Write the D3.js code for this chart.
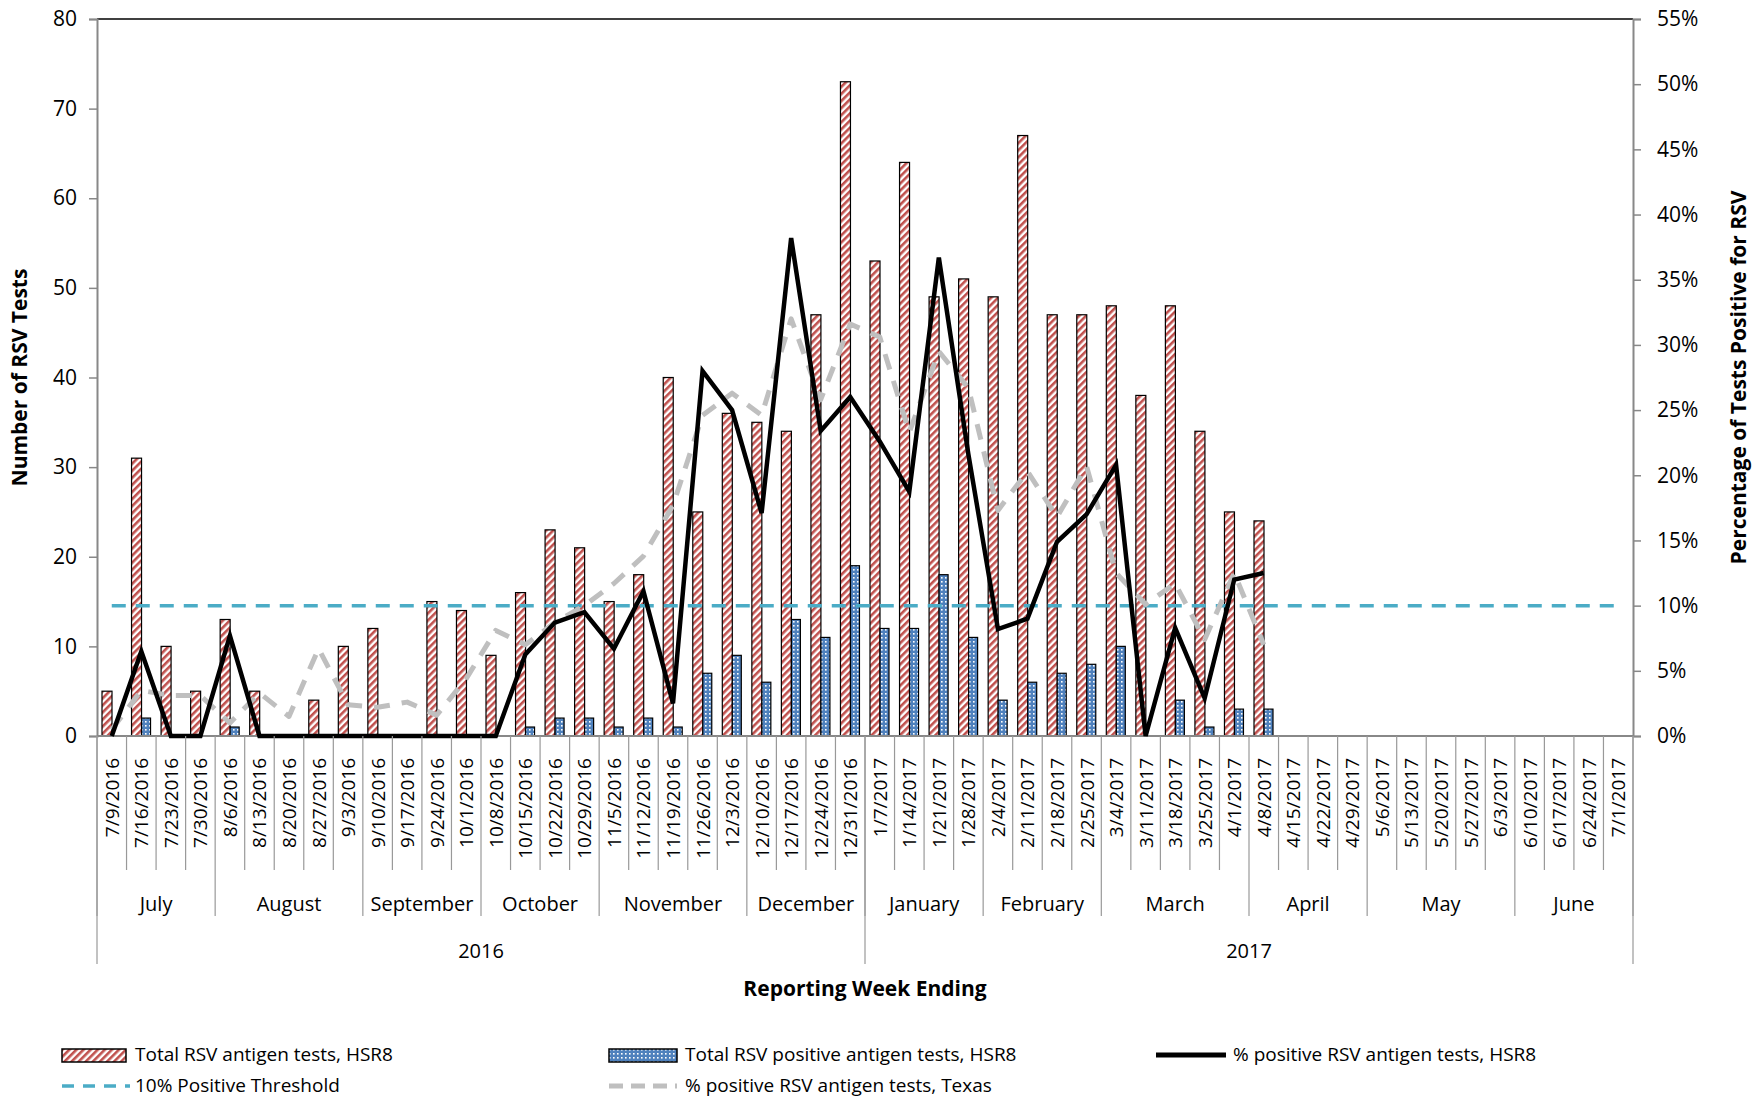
<!DOCTYPE html>
<html><head><meta charset="utf-8">
<script src="https://cdn.jsdelivr.net/npm/d3@7"></script>
<style>
body{margin:0;background:#fff;}
text{font-family:"Liberation Sans Narrow","Open Sans",sans-serif;fill:#000;}
.tick text{font-family:"Open Sans",sans-serif;}
</style></head><body>
<div id="chart"></div>
<script>
var weeks = ["7/9/2016","7/16/2016","7/23/2016","7/30/2016","8/6/2016","8/13/2016","8/20/2016","8/27/2016","9/3/2016","9/10/2016","9/17/2016","9/24/2016","10/1/2016","10/8/2016","10/15/2016","10/22/2016","10/29/2016","11/5/2016","11/12/2016","11/19/2016","11/26/2016","12/3/2016","12/10/2016","12/17/2016","12/24/2016","12/31/2016","1/7/2017","1/14/2017","1/21/2017","1/28/2017","2/4/2017","2/11/2017","2/18/2017","2/25/2017","3/4/2017","3/11/2017","3/18/2017","3/25/2017","4/1/2017","4/8/2017","4/15/2017","4/22/2017","4/29/2017","5/6/2017","5/13/2017","5/20/2017","5/27/2017","6/3/2017","6/10/2017","6/17/2017","6/24/2017","7/1/2017"];
var totalTests = [5,31,10,5,13,5,0,4,10,12,0,15,14,9,16,23,21,15,18,40,25,36,35,34,47,73,53,64,49,51,49,67,47,47,48,38,48,34,25,24,0,0,0,0,0,0,0,0,0,0,0,0];
var positiveTests = [0,2,0,0,1,0,0,0,0,0,0,0,0,0,1,2,2,1,2,1,7,9,6,13,11,19,12,12,18,11,4,6,7,8,10,0,4,1,3,3,0,0,0,0,0,0,0,0,0,0,0,0];
var pctHSR8 = [0,6.5,0,0,7.7,0,0,0,0,0,0,0,0,0,6.25,8.7,9.5,6.7,11.1,2.5,28,25,17.1,38.2,23.4,26,22.6,18.75,36.7,21.6,8.2,9,14.9,17,20.8,0,8.3,2.9,12,12.5];
var pctTexas = [0.5,3.5,3.1,3.1,1,3.3,1.5,6.7,2.4,2.2,2.6,1.6,4.4,8.1,7,8.7,10,11.7,13.8,17.7,24.6,26.3,24.6,32,25.8,31.6,30.6,23.3,29.5,26.7,17.3,20.3,16.8,20.7,12.5,10.1,11.7,7.4,12.5,7];
var threshold = 10;
var months = ["July","August","September","October","November","December","January","February","March","April","May","June"];
var monthWeeks = [4,5,4,4,5,4,4,4,5,4,5,4];
var years = ["2016","2017"];
var yearWeeks = [26,26];

var W = 1760, H = 1099, L = 97, R = 1633, T = 19, B = 736;
var svg = d3.select("#chart").append("svg").attr("width", W).attr("height", H);

var defs = svg.append("defs");
var pr = defs.append("pattern").attr("id","redStripe").attr("patternUnits","userSpaceOnUse")
  .attr("width",5).attr("height",5).attr("patternTransform","rotate(45)");
pr.append("rect").attr("width",5).attr("height",5).attr("fill","#fff");
pr.append("rect").attr("width",2.6).attr("height",5).attr("fill","#c0504d");
var pb = defs.append("pattern").attr("id","blueDot").attr("patternUnits","userSpaceOnUse")
  .attr("width",4).attr("height",4);
pb.append("rect").attr("width",4).attr("height",4).attr("fill","#4f81bd");
pb.append("rect").attr("x",1).attr("y",1).attr("width",1.6).attr("height",1.6).attr("fill","#fff");

var x = d3.scaleBand().domain(weeks).range([L, R]);
var y = d3.scaleLinear().domain([0, 80]).range([B, T]);
var y2 = d3.scaleLinear().domain([0, 55]).range([B, T]);
var bw = x.bandwidth();

// top border
svg.append("line").attr("x1",L).attr("x2",R).attr("y1",T).attr("y2",T).attr("stroke","#000").attr("stroke-width",1.5);

// axes
var ya = svg.append("g").attr("transform","translate("+L+",0)")
  .call(d3.axisLeft(y).tickValues(d3.range(0,81,10)).tickSize(8).tickPadding(12));
var ya2 = svg.append("g").attr("transform","translate("+R+",0)")
  .call(d3.axisRight(y2).tickValues(d3.range(0,56,5)).tickSize(8).tickPadding(16).tickFormat(function(d){return d+"%";}));
[ya, ya2].forEach(function(g){
  g.select(".domain").attr("stroke","#888").attr("stroke-width",2);
  g.selectAll(".tick line").attr("stroke","#888").attr("stroke-width",1.5);
  g.selectAll(".tick text").attr("font-size",21);
});

// bars
svg.selectAll("rect.tot").data(totalTests).enter().append("rect").attr("class","tot")
  .attr("x", function(d,i){return x(weeks[i]) + 5;})
  .attr("y", function(d){return y(d);})
  .attr("width", 10).attr("height", function(d){return B - y(d);})
  .attr("fill","url(#redStripe)").attr("stroke", function(d){return d ? "#000" : "none";}).attr("stroke-width",1.2);
svg.selectAll("rect.pos").data(positiveTests).enter().append("rect").attr("class","pos")
  .attr("x", function(d,i){return x(weeks[i]) + 15;})
  .attr("y", function(d){return y(d);})
  .attr("width", 9).attr("height", function(d){return B - y(d);})
  .attr("fill","url(#blueDot)").attr("stroke", function(d){return d ? "#000" : "none";}).attr("stroke-width",1.2);

// x axis line
svg.append("line").attr("x1",L).attr("x2",R).attr("y1",B).attr("y2",B).attr("stroke","#888").attr("stroke-width",2);

// threshold
svg.append("line").attr("x1", x(weeks[0]) + bw/2).attr("x2", x(weeks[51]) + bw/2)
  .attr("y1", y2(threshold)).attr("y2", y2(threshold))
  .attr("stroke","#4bacc6").attr("stroke-width",3.5).attr("stroke-dasharray","14,10");

var line = d3.line().x(function(d,i){return x(weeks[i]) + bw/2;}).y(function(d){return y2(d);});
svg.append("path").datum(pctTexas).attr("d", line).attr("fill","none")
  .attr("stroke","#bfbfbf").attr("stroke-width",5).attr("stroke-dasharray","16,12").attr("stroke-linejoin","round");
svg.append("path").datum(pctHSR8).attr("d", line).attr("fill","none")
  .attr("stroke","#000").attr("stroke-width",4.5).attr("stroke-linejoin","miter");

// category labels & separators
var g = svg.append("g");
weeks.forEach(function(w,i){
  g.append("line").attr("x1",x(w)).attr("x2",x(w)).attr("y1",B).attr("y2",870).attr("stroke","#999").attr("stroke-width",1.2);
  g.append("text").attr("transform","translate("+(x(w)+bw/2+7)+",758) rotate(-90)")
    .attr("text-anchor","end").attr("font-size",19).style("font-family","'Open Sans',sans-serif").text(w);
});
g.append("line").attr("x1",R).attr("x2",R).attr("y1",B).attr("y2",870).attr("stroke","#999").attr("stroke-width",1.2);
var idx = 0;
months.forEach(function(m,k){
  var x0 = x(weeks[idx]);
  idx += monthWeeks[k];
  var x1 = idx < weeks.length ? x(weeks[idx]) : R;
  g.append("line").attr("x1",x0).attr("x2",x0).attr("y1",870).attr("y2",916).attr("stroke","#999").attr("stroke-width",1.2);
  g.append("text").attr("x",(x0+x1)/2).attr("y",911).attr("text-anchor","middle").attr("font-size",20)
    .style("font-family","'Open Sans',sans-serif").text(m);
});
g.append("line").attr("x1",R).attr("x2",R).attr("y1",870).attr("y2",916).attr("stroke","#999").attr("stroke-width",1.2);
idx = 0;
years.forEach(function(yr,k){
  var x0 = x(weeks[idx]);
  idx += yearWeeks[k];
  var x1 = idx < weeks.length ? x(weeks[idx]) : R;
  g.append("line").attr("x1",x0).attr("x2",x0).attr("y1",B).attr("y2",964).attr("stroke","#999").attr("stroke-width",1.2);
  g.append("text").attr("x",(x0+x1)/2).attr("y",958).attr("text-anchor","middle").attr("font-size",20)
    .style("font-family","'Open Sans',sans-serif").text(yr);
});
g.append("line").attr("x1",R).attr("x2",R).attr("y1",B).attr("y2",964).attr("stroke","#999").attr("stroke-width",1.2);

// titles
svg.append("text").attr("x",(L+R)/2).attr("y",996).attr("text-anchor","middle").attr("font-size",21)
  .attr("font-weight","bold").style("font-family","'Open Sans',sans-serif").text("Reporting Week Ending");
svg.append("text").attr("transform","translate(27,"+((T+B)/2)+") rotate(-90)").attr("text-anchor","middle")
  .attr("font-size",21).attr("font-weight","bold").style("font-family","'Open Sans',sans-serif").text("Number of RSV Tests");
svg.append("text").attr("transform","translate(1746,"+((T+B)/2)+") rotate(-90)").attr("text-anchor","middle")
  .attr("font-size",21).attr("font-weight","bold").style("font-family","'Open Sans',sans-serif").text("Percentage of Tests Positive for RSV");

// legend
var lg = svg.append("g").attr("font-size",19);
function legText(xp, yp, t){ lg.append("text").attr("x",xp).attr("y",yp+6).text(t); }
lg.append("rect").attr("x",62).attr("y",1049).attr("width",64).attr("height",13).attr("fill","url(#redStripe)").attr("stroke","#000").attr("stroke-width",1.5);
legText(135,1055,"Total RSV antigen tests, HSR8");
lg.append("rect").attr("x",609).attr("y",1049).attr("width",68).attr("height",13).attr("fill","url(#blueDot)").attr("stroke","#000").attr("stroke-width",1.5);
legText(685,1055,"Total RSV positive antigen tests, HSR8");
lg.append("line").attr("x1",1156).attr("x2",1226).attr("y1",1055).attr("y2",1055).attr("stroke","#000").attr("stroke-width",5);
legText(1233,1055,"% positive RSV antigen tests, HSR8");
lg.append("line").attr("x1",62).attr("x2",130).attr("y1",1086).attr("y2",1086).attr("stroke","#4bacc6").attr("stroke-width",3.5).attr("stroke-dasharray","12,9");
legText(135,1086,"10% Positive Threshold");
lg.append("line").attr("x1",609).attr("x2",677).attr("y1",1086).attr("y2",1086).attr("stroke","#bfbfbf").attr("stroke-width",5).attr("stroke-dasharray","14,8");
legText(685,1086,"% positive RSV antigen tests, Texas");
</script></body></html>
